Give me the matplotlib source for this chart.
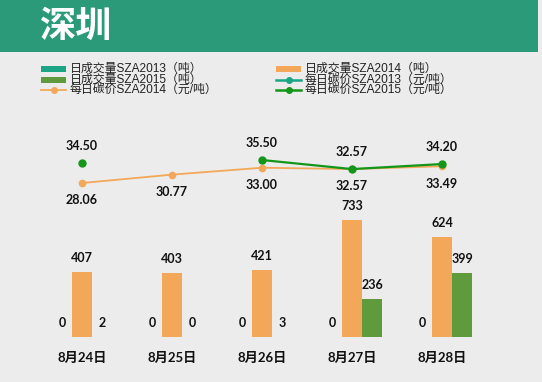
import numpy as np
import matplotlib
matplotlib.use('Agg')
import matplotlib.pyplot as plt
from matplotlib.patches import Rectangle
from matplotlib.lines import Line2D

# data
dates = ['8月24日', '8月25日', '8月26日', '8月27日', '8月28日']
vol_2013 = [0, 0, 0, 0, 0]
vol_2014 = [407, 403, 421, 733, 624]
vol_2015 = [2, 0, 3, 236, 399]
price_2014 = [28.06, 30.77, 33.00, 32.57, 33.49]
price_2015 = [34.50, np.nan, 35.50, 32.57, 34.20]

legend_labels = ['日成交量SZA2013（吨）', '日成交量SZA2014（吨）',
                 '日成交量SZA2015（吨）', '每日碳价SZA2013（元/吨）',
                 '每日碳价SZA2014（元/吨）', '每日碳价SZA2015（元/吨）']

c2013 = '#1aa585'
c2014 = '#f2a858'
c2015_bar = '#5f9a3c'
c2015_line = '#14961a'
bg = '#ececec'
header = '#2a9a78'

CJK = ['Noto Sans CJK SC', 'DejaVu Sans']
LEG = ['Liberation Sans', 'Noto Sans CJK SC', 'DejaVu Sans']
NUM = ['Lato', 'Noto Sans CJK SC', 'DejaVu Sans']

W, H = 542, 382
fig = plt.figure(figsize=(W / 100, H / 100), dpi=100, facecolor=bg)


def fx(px):
    return px / W


def fy(py):
    return 1 - py / H


# header band with title
fig.patches.append(Rectangle((0, fy(52)), fx(538), 52 / H, transform=fig.transFigure,
                             facecolor=header, edgecolor='none', zorder=0))
fig.text(fx(40), fy(26), '深圳', color='white', fontsize=26, fontweight='bold',
         family=CJK, va='center', ha='left')

# legend drawn by hand so the rows sit as tight as in the original
kinds = ['bar', 'bar', 'bar', 'line', 'line', 'line']
colors = [c2013, c2014, c2015_bar, c2013, c2014, c2015_line]
widths = [0, 0, 0, 1.8, 1.3, 1.8]
for i, lab in enumerate(legend_labels):
    row, col = i // 2, i % 2
    x0 = 41 if col == 0 else 276
    y0 = 69 + row * 10.5
    if kinds[i] == 'bar':
        fig.patches.append(Rectangle((fx(x0), fy(y0 + 3)), fx(25), 6 / H,
                                     transform=fig.transFigure,
                                     facecolor=colors[i], edgecolor='none'))
    else:
        fig.lines.append(Line2D([fx(x0), fx(x0 + 25)], [fy(y0), fy(y0)],
                                transform=fig.transFigure, color=colors[i],
                                lw=widths[i]))
        fig.lines.append(Line2D([fx(x0 + 12.5)], [fy(y0)], transform=fig.transFigure,
                                color=colors[i], marker='o', markersize=4))
    fig.text(fx(x0 + 29), fy(y0), lab, fontsize=8.6, family=LEG, color='#222222',
             va='center', ha='left')

# bars
x = np.arange(len(dates))
bw = 0.222
ax = fig.add_axes([fx(37), fy(337), fx(450), 137 / H])
ax.set_facecolor('none')
groups = [(vol_2013, -bw, c2013), (vol_2014, 0, c2014), (vol_2015, bw, c2015_bar)]
for vals, off, col in groups:
    ax.bar(x + off, vals, width=bw, color=col, align='center')
    for xi, v in zip(x, vals):
        ax.annotate(f'{v}', (xi + off, v), xytext=(0, 10), textcoords='offset points',
                    ha='center', va='center', fontsize=9, fontweight='bold',
                    family=NUM, color='#111111')
ax.set_xlim(-0.5, 4.5)
ax.set_ylim(0, 856)
ax.set_xticks(x)
ax.set_xticklabels(dates, fontsize=9.5, fontweight='bold', family=NUM, color='#111111')
ax.tick_params(axis='x', length=0, pad=11)
ax.set_yticks([])
for s in ax.spines.values():
    s.set_visible(False)

# price lines
lx = fig.add_axes([fx(37), fy(200), fx(450), 60 / H])
lx.set_facecolor('none')
lx.plot(x, price_2014, color=c2014, lw=1.3, marker='o', markersize=4.5)
lx.plot(x, price_2015, color=c2015_line, lw=1.6, marker='o', markersize=5)
for xi, v in zip(x, price_2014):
    lx.annotate(f'{v:.2f}', (xi, v), xytext=(0, -12.5), textcoords='offset points',
                ha='center', va='center', fontsize=9, fontweight='bold',
                family=NUM, color='#111111')
for xi, v in zip(x, price_2015):
    if np.isnan(v):
        continue
    lx.annotate(f'{v:.2f}', (xi, v), xytext=(0, 12.5), textcoords='offset points',
                ha='center', va='center', fontsize=9, fontweight='bold',
                family=NUM, color='#111111')
lx.set_xlim(-0.5, 4.5)
lx.set_ylim(22.56, 41.98)
lx.axis('off')

fig.savefig('out.png', dpi=100, facecolor=bg)
